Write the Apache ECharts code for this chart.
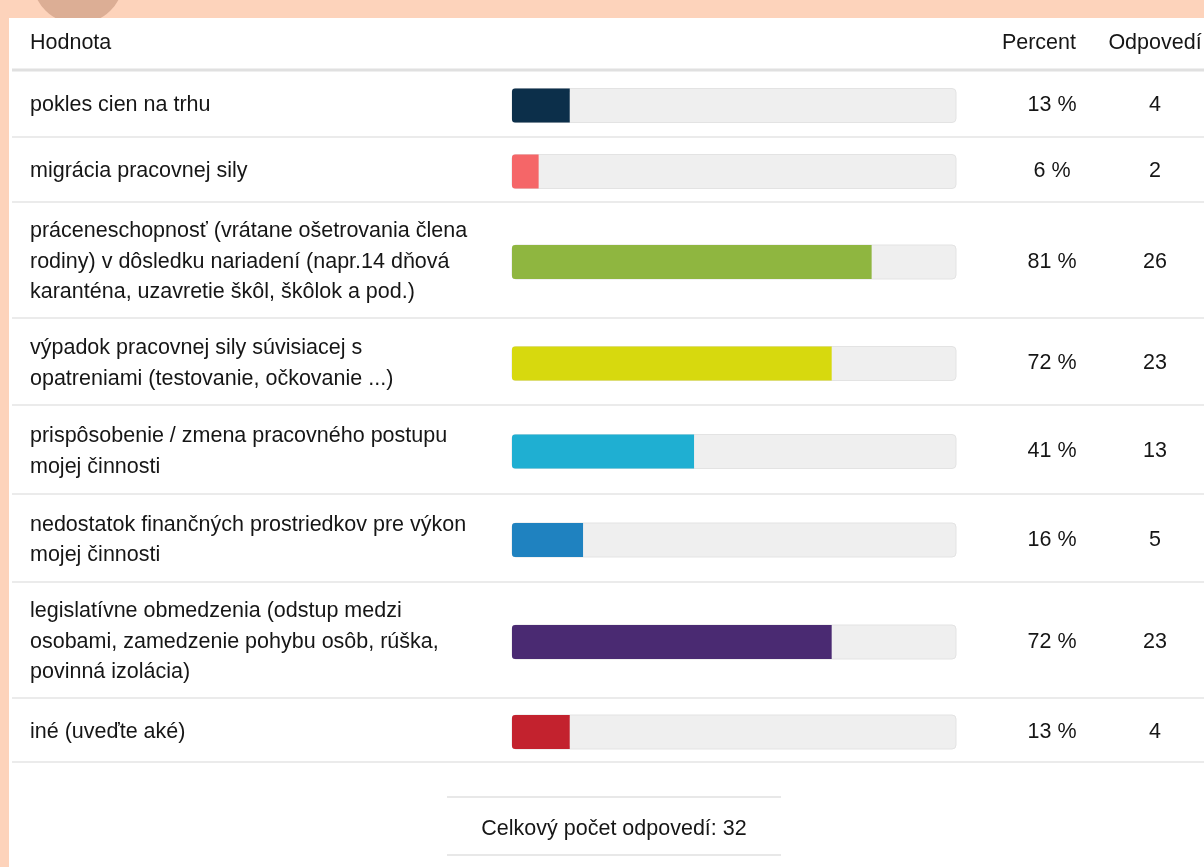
<!DOCTYPE html>
<html><head><meta charset="utf-8">
<script src="https://cdn.jsdelivr.net/npm/echarts@6/dist/echarts.min.js"></script>
<style>html,body{margin:0;padding:0;background:#fdd3bb;}#c{width:1204px;height:867px;}</style>
</head><body><div id="c"></div>
<script>
// ---- data ----
const categories = [
  'pokles cien na trhu',
  'migrácia pracovnej sily',
  'práceneschopnosť (vrátane ošetrovania člena\nrodiny) v dôsledku nariadení (napr.14 dňová\nkaranténa, uzavretie škôl, škôlok a pod.)',
  'výpadok pracovnej sily súvisiacej s\nopatreniami (testovanie, očkovanie ...)',
  'prispôsobenie / zmena pracovného postupu\nmojej činnosti',
  'nedostatok finančných prostriedkov pre výkon\nmojej činnosti',
  'legislatívne obmedzenia (odstup medzi\nosobami, zamedzenie pohybu osôb, rúška,\npovinná izolácia)',
  'iné (uveďte aké)'
];
const percents = [13, 6, 81, 72, 41, 16, 72, 13];
const counts = [4, 2, 26, 23, 13, 5, 23, 4];
const totalResponses = 32;
const headers = ['Hodnota', 'Percent', 'Odpovedí'];
const footerLabel = 'Celkový počet odpovedí:';

// ---- styles / layout ----
const barColors = ['#0c2f4a', '#f56668', '#8fb640', '#d7d90e', '#1fafd2', '#1f82c0', '#4a2a72', '#c3222e'];
const rowTops = [70, 137, 202, 318, 405, 494, 582, 698, 762];
const FONT = '"Liberation Sans", Arial, sans-serif';
const FS = 21.5;
const TXT = '#161616';

const chart = echarts.init(document.getElementById('c'));

const grid = [], xAxis = [], yAxis = [], series = [];
categories.forEach((cat, i) => {
  grid.push({ left: 512, right: 248, top: rowTops[i] + 2, height: rowTops[i + 1] - rowTops[i] });
  xAxis.push({ type: 'value', gridIndex: i, min: 0, max: 100, show: false });
  yAxis.push({
    type: 'category', gridIndex: i, data: [cat], position: 'left',
    axisLine: { show: false }, axisTick: { show: false },
    axisLabel: { align: 'left', margin: 482, fontSize: FS, lineHeight: 30.5, color: TXT, fontFamily: FONT }
  });
  yAxis.push({
    type: 'category', gridIndex: i, data: [cat], position: 'right',
    axisLine: { show: false }, axisTick: { show: false },
    axisLabel: {
      margin: 56,
      formatter: () => '{p|' + percents[i] + ' %}{c|' + counts[i] + '}',
      rich: {
        p: { width: 80, align: 'right', fontSize: FS, color: TXT, fontFamily: FONT },
        c: { width: 126, align: 'center', fontSize: FS, color: TXT, fontFamily: FONT }
      }
    }
  });
  series.push({
    type: 'bar', xAxisIndex: i, yAxisIndex: 2 * i, data: [percents[i]], barWidth: 34,
    silent: true,
    itemStyle: { color: barColors[i], borderRadius: [3, 0, 0, 3] },
    showBackground: true,
    backgroundStyle: { color: '#efefef', borderRadius: 4, borderColor: '#e3e3e3', borderWidth: 1 }
  });
});

const graphic = [];
// top decor + white panel
graphic.push({ type: 'circle', z: -20, shape: { cx: 78, cy: -22, r: 46 }, style: { fill: '#dcae95' } });
graphic.push({ type: 'rect', z: -10, shape: { x: 9, y: 18, width: 1195, height: 849 }, style: { fill: '#ffffff' } });
// header
graphic.push({ type: 'text', z: 5, style: { text: headers[0], x: 30, y: 43, fontSize: FS, fontFamily: FONT, fill: TXT, align: 'left', verticalAlign: 'middle' } });
graphic.push({ type: 'text', z: 5, style: { text: headers[1], x: 1076, y: 43, fontSize: FS, fontFamily: FONT, fill: TXT, align: 'right', verticalAlign: 'middle' } });
graphic.push({ type: 'text', z: 5, style: { text: headers[2], x: 1155, y: 43, fontSize: FS, fontFamily: FONT, fill: TXT, align: 'center', verticalAlign: 'middle' } });
// separators
rowTops.forEach((y, k) => {
  graphic.push({ type: 'line', z: -5, shape: { x1: 12, y1: y, x2: 1204, y2: y },
    style: { stroke: k === 0 ? '#e0e0e0' : '#ebebeb', lineWidth: k === 0 ? 3 : 2 } });
});
// footer
graphic.push({ type: 'line', z: -5, shape: { x1: 447, y1: 797, x2: 781, y2: 797 }, style: { stroke: '#e8e8e8', lineWidth: 2 } });
graphic.push({ type: 'line', z: -5, shape: { x1: 447, y1: 855, x2: 781, y2: 855 }, style: { stroke: '#e8e8e8', lineWidth: 2 } });
graphic.push({ type: 'text', z: 5, style: { text: footerLabel + ' ' + totalResponses, x: 614, y: 829, fontSize: FS, fontFamily: FONT, fill: TXT, align: 'center', verticalAlign: 'middle' } });

chart.setOption({
  backgroundColor: '#fdd3bb',
  animation: false,
  grid, xAxis, yAxis, series, graphic
});
</script>
</body></html>
